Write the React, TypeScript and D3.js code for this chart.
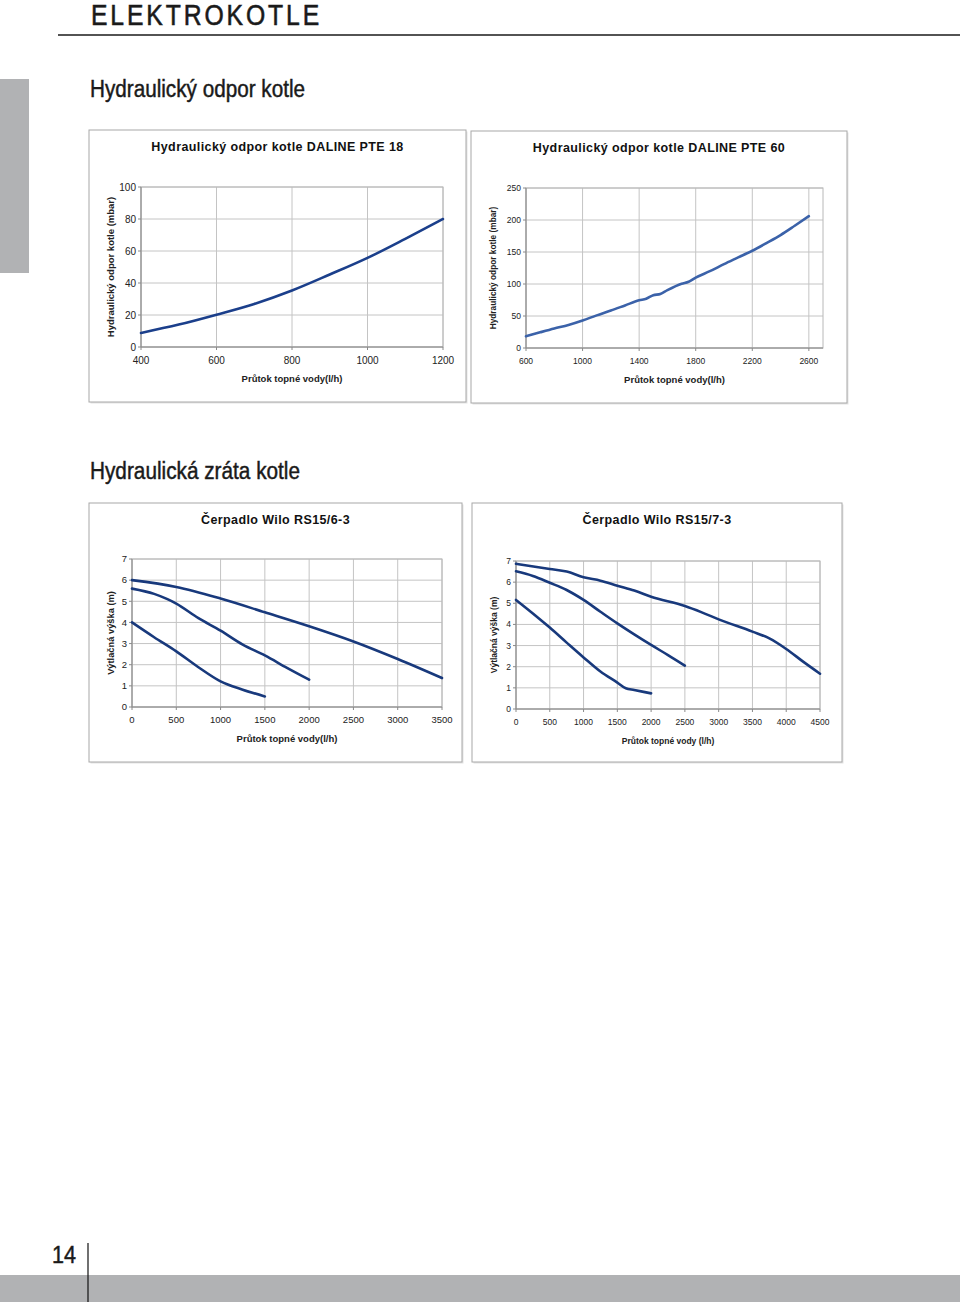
import * as d3 from 'd3'
import React from 'react'

// --- data ---
const pte18Flow = [400, 500, 600, 700, 800, 900, 1000, 1100, 1200]
const pte18Loss = [8.8, 14, 20.2, 26.9, 35.3, 45.3, 55.7, 67.6, 80]

const pte60Flow = [600, 700, 800, 900, 1000, 1100, 1200, 1300, 1400, 1450, 1500, 1550, 1600, 1700, 1750, 1800, 1900, 2000, 2100, 2200, 2300, 2400, 2500, 2600]
const pte60Loss = [18.3, 24.5, 30.5, 36, 43, 51, 58.5, 66.5, 74.5, 77, 82.5, 84.5, 90.5, 100.5, 103.5, 110, 120, 131, 141.5, 152, 164, 176.5, 191, 206]

const rs6TopFlow = [0, 500, 1000, 1500, 2000, 2500, 3000, 3500]
const rs6TopHead = [6.0, 5.68, 5.13, 4.48, 3.82, 3.1, 2.27, 1.37]
const rs6MidFlow = [0, 250, 400, 500, 750, 1000, 1250, 1500, 1750, 2000]
const rs6MidHead = [5.6, 5.35, 5.1, 4.89, 4.2, 3.61, 2.95, 2.44, 1.85, 1.29]
const rs6LowFlow = [0, 250, 500, 750, 1000, 1250, 1500]
const rs6LowHead = [4.0, 3.3, 2.63, 1.88, 1.21, 0.82, 0.5]

const rs7TopFlow = [0, 500, 750, 1000, 1250, 1500, 1750, 2000, 2500, 2750, 3000, 3500, 3750, 4000, 4250, 4500]
const rs7TopHead = [6.87, 6.62, 6.5, 6.23, 6.07, 5.83, 5.6, 5.31, 4.87, 4.57, 4.24, 3.66, 3.34, 2.84, 2.24, 1.67]
const rs7MidFlow = [0, 250, 500, 750, 1000, 1250, 1500, 1750, 2000, 2250, 2500]
const rs7MidHead = [6.51, 6.29, 5.97, 5.63, 5.16, 4.6, 4.05, 3.53, 3.03, 2.55, 2.05]
const rs7LowFlow = [0, 250, 500, 750, 1000, 1250, 1500, 1625, 1750, 2000]
const rs7LowHead = [5.16, 4.52, 3.85, 3.14, 2.44, 1.77, 1.25, 0.98, 0.9, 0.74]

const pte18XTicks = [400, 600, 800, 1000, 1200]
const pte18YTicks = [0, 20, 40, 60, 80, 100]
const pte60XTicks = [600, 1000, 1400, 1800, 2200, 2600]
const pte60YTicks = [0, 50, 100, 150, 200, 250]
const rs6XTicks = [0, 500, 1000, 1500, 2000, 2500, 3000, 3500]
const rs7XTicks = [0, 500, 1000, 1500, 2000, 2500, 3000, 3500, 4000, 4500]
const headTicks = [0, 1, 2, 3, 4, 5, 6, 7]

const GRAY = '#b1b2b4'
const SANS = '"Liberation Sans", Arial, sans-serif'
const INK = '#1a1a1a'

type Series = { x: number[]; y: number[] }

type ChartProps = {
  box: [number, number, number, number]
  plot: [number, number, number, number]
  title: string
  titleSize: number
  xLabel: string
  yLabel: string
  labelSize: number
  yLabelSize: number
  tickSize: number
  xDomain: [number, number]
  yDomain: [number, number]
  xTicks: number[]
  yTicks: number[]
  series: Series[]
  color: string
}

function Chart(p: ChartProps) {
  const [bx0, by0, bx1, by1] = p.box
  const [px0, py0, px1, py1] = p.plot
  const x = d3.scaleLinear().domain(p.xDomain).range([px0, px1])
  const y = d3.scaleLinear().domain(p.yDomain).range([py1, py0])
  const line = d3
    .line<[number, number]>()
    .x(d => x(d[0]))
    .y(d => y(d[1]))
    .curve(d3.curveMonotoneX)

  return (
    <g>
      <rect x={bx0 + 1.5} y={by0 + 1.5} width={bx1 - bx0} height={by1 - by0} fill="#e4e4e4" />
      <rect x={bx0} y={by0} width={bx1 - bx0} height={by1 - by0} fill="#fff" stroke="#a8a8a8" strokeWidth={1} />
      <text x={(bx0 + bx1) / 2} y={by0 + 21} textAnchor="middle" fontFamily={SANS} fontWeight="bold" fontSize={p.titleSize} letterSpacing={0.4} fill="#111">
        {p.title}
      </text>
      {p.yTicks.map(t => (
        <line key={'h' + t} x1={px0} x2={px1} y1={y(t)} y2={y(t)} stroke="#c4c4c4" strokeWidth={1} />
      ))}
      {p.xTicks.map(t => (
        <line key={'v' + t} x1={x(t)} x2={x(t)} y1={py0} y2={py1} stroke="#c4c4c4" strokeWidth={1} />
      ))}
      <rect x={px0} y={py0} width={px1 - px0} height={py1 - py0} fill="none" stroke="#b8b8b8" strokeWidth={1} />
      <line x1={px0} x2={px0} y1={py0} y2={py1} stroke="#8a8a8a" />
      <line x1={px0} x2={px1} y1={py1} y2={py1} stroke="#8a8a8a" />
      {p.yTicks.map(t => (
        <g key={'yt' + t}>
          <line x1={px0 - 3} x2={px0} y1={y(t)} y2={y(t)} stroke="#8a8a8a" />
          <text x={px0 - 5} y={y(t)} dy="0.35em" textAnchor="end" fontFamily={SANS} fontSize={p.tickSize} fill="#222">
            {t}
          </text>
        </g>
      ))}
      {p.xTicks.map(t => (
        <g key={'xt' + t}>
          <line x1={x(t)} x2={x(t)} y1={py1} y2={py1 + 3} stroke="#8a8a8a" />
          <text x={x(t)} y={py1 + 13} dy="0.35em" textAnchor="middle" fontFamily={SANS} fontSize={p.tickSize} fill="#222">
            {t}
          </text>
        </g>
      ))}
      {p.series.map((s, i) => (
        <path
          key={i}
          d={line(s.x.map((v, j) => [v, s.y[j]] as [number, number])) || ''}
          fill="none"
          stroke={p.color}
          strokeWidth={2.6}
          strokeLinecap="round"
          strokeLinejoin="round"
        />
      ))}
      <text x={(px0 + px1) / 2} y={py1 + 32} dy="0.35em" textAnchor="middle" fontFamily={SANS} fontWeight="bold" fontSize={p.labelSize} fill="#222">
        {p.xLabel}
      </text>
      <text
        transform={`translate(${bx0 + 22},${(py0 + py1) / 2}) rotate(-90)`}
        dy="0.35em"
        textAnchor="middle"
        fontFamily={SANS}
        fontWeight="bold"
        fontSize={p.yLabelSize}
        fill="#222"
      >
        {p.yLabel}
      </text>
    </g>
  )
}

export default function App() {
  return (
    <svg width={960} height={1302} style={{ position: 'absolute', left: 0, top: 0, background: '#fff' }}>
      <rect width={960} height={1302} fill="#fff" />
      <text x={91} y={25} fontFamily={SANS} fontSize={30} letterSpacing={3.5} textLength={231} lengthAdjust="spacingAndGlyphs" fill={INK} stroke={INK} strokeWidth={0.6}>
        ELEKTROKOTLE
      </text>
      <line x1={58} x2={960} y1={35} y2={35} stroke={INK} strokeWidth={1.6} />
      <rect x={0} y={79} width={29} height={194} fill={GRAY} />

      <text x={90} y={97} fontFamily={SANS} fontSize={23} textLength={215} lengthAdjust="spacingAndGlyphs" fill={INK} stroke={INK} strokeWidth={0.45}>
        Hydraulický odpor kotle
      </text>

      <Chart
        box={[89, 130, 466, 402]}
        plot={[141, 187, 443, 347]}
        title="Hydraulický odpor kotle DALINE PTE 18"
        titleSize={12.5}
        xLabel="Průtok topné vody(l/h)"
        yLabel="Hydraulický odpor kotle (mbar)"
        labelSize={9.5}
        yLabelSize={9.5}
        tickSize={10}
        xDomain={[400, 1200]}
        yDomain={[0, 100]}
        xTicks={pte18XTicks}
        yTicks={pte18YTicks}
        series={[{ x: pte18Flow, y: pte18Loss }]}
        color="#1b3f8b"
      />
      <Chart
        box={[471, 131, 847, 403]}
        plot={[526, 188, 823, 348]}
        title="Hydraulický odpor kotle DALINE PTE 60"
        titleSize={12.5}
        xLabel="Průtok topné vody(l/h)"
        yLabel="Hydraulický odpor kotle (mbar)"
        labelSize={9.5}
        yLabelSize={8.3}
        tickSize={8.5}
        xDomain={[600, 2700]}
        yDomain={[0, 250]}
        xTicks={pte60XTicks}
        yTicks={pte60YTicks}
        series={[{ x: pte60Flow, y: pte60Loss }]}
        color="#3b62a9"
      />

      <text x={90} y={479} fontFamily={SANS} fontSize={23} textLength={210} lengthAdjust="spacingAndGlyphs" fill={INK} stroke={INK} strokeWidth={0.45}>
        Hydraulická zráta kotle
      </text>

      <Chart
        box={[89, 503, 462, 762]}
        plot={[132, 559, 442, 707]}
        title="Čerpadlo Wilo RS15/6-3"
        titleSize={12.5}
        xLabel="Průtok topné vody(l/h)"
        yLabel="Výtlačná výška (m)"
        labelSize={9.5}
        yLabelSize={9.3}
        tickSize={9.5}
        xDomain={[0, 3500]}
        yDomain={[0, 7]}
        xTicks={rs6XTicks}
        yTicks={headTicks}
        series={[
          { x: rs6TopFlow, y: rs6TopHead },
          { x: rs6MidFlow, y: rs6MidHead },
          { x: rs6LowFlow, y: rs6LowHead }
        ]}
        color="#18397c"
      />
      <Chart
        box={[472, 503, 842, 762]}
        plot={[516, 561, 820, 709]}
        title="Čerpadlo Wilo RS15/7-3"
        titleSize={12.5}
        xLabel="Průtok topné vody (l/h)"
        yLabel="Výtlačná výška (m)"
        labelSize={8.5}
        yLabelSize={8.5}
        tickSize={8.5}
        xDomain={[0, 4500]}
        yDomain={[0, 7]}
        xTicks={rs7XTicks}
        yTicks={headTicks}
        series={[
          { x: rs7TopFlow, y: rs7TopHead },
          { x: rs7MidFlow, y: rs7MidHead },
          { x: rs7LowFlow, y: rs7LowHead }
        ]}
        color="#18397c"
      />

      <rect x={0} y={1275} width={960} height={27} fill={GRAY} />
      <line x1={88} x2={88} y1={1243} y2={1302} stroke="#111" strokeWidth={1.2} />
      <text x={52} y={1263} fontFamily={SANS} fontSize={23} textLength={24} lengthAdjust="spacingAndGlyphs" fill={INK} stroke={INK} strokeWidth={0.45}>
        14
      </text>
    </svg>
  )
}
